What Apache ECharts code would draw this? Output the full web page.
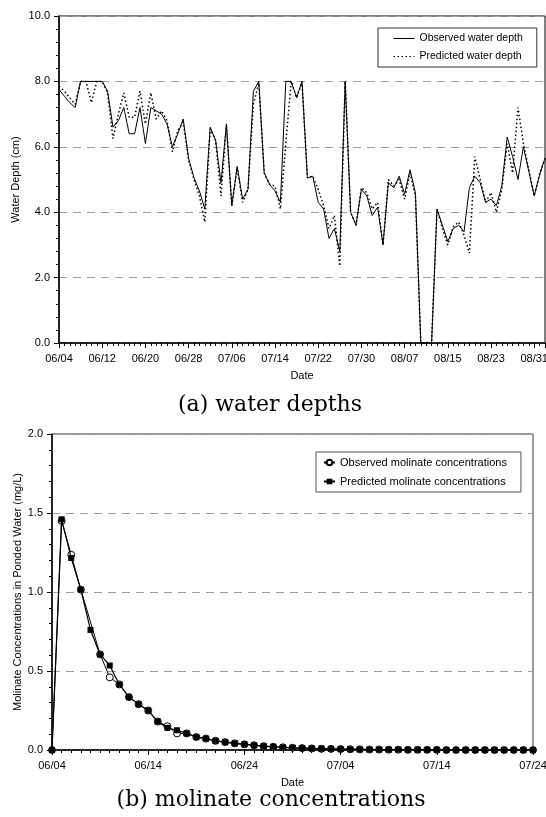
<!DOCTYPE html>
<html>
<head>
<meta charset="utf-8">
<script src="https://cdn.jsdelivr.net/npm/echarts@6/dist/echarts.min.js"></script>
<style>
  html, body { margin: 0; padding: 0; background: #fff; }
  #main { width: 546px; height: 817px; }
</style>
</head>
<body>
<div id="main"></div>
<script>
// day 0 = 06/04, one value per day
var depthObserved = [
  7.75, 7.55, 7.35, 7.2, 8.0, 8.0, 8.0, 8.0, 8.0, 7.7,
  6.6, 6.8, 7.2, 6.4, 6.4, 7.2, 6.1, 7.2, 7.1, 7.0,
  6.7, 6.0, 6.4, 6.85, 5.65, 5.05, 4.65, 4.1, 6.6, 6.2,
  4.9, 6.7, 4.2, 5.4, 4.4, 4.7, 7.7, 8.0, 5.2, 4.85,
  4.65, 4.3, 8.0, 8.0, 7.5, 8.0, 5.05, 5.1, 4.3, 4.1,
  3.2, 3.5, 2.8, 8.0, 4.0, 3.6, 4.7, 4.5, 3.9, 4.15,
  3.0, 4.9, 4.75, 5.1, 4.55, 5.3, 4.6, 0, 0, 0,
  4.1, 3.6, 3.1, 3.5, 3.6, 3.4, 4.75, 5.1, 4.9, 4.3,
  4.4, 4.2, 4.8, 6.3, 5.7, 5.0, 6.0, 5.25, 4.5, 5.15,
  5.65
];
var depthPredicted = [
  7.85, 7.7, 7.5, 7.3, 8.0, 8.0, 7.35, 8.0, 8.0, 7.65,
  6.25, 7.0, 7.65, 6.9, 6.9, 7.7, 6.7, 7.65, 6.85, 7.1,
  6.8, 5.85, 6.5, 6.75, 5.6, 5.0, 4.5, 3.7, 6.55, 6.2,
  4.5, 6.65, 4.2, 5.35, 4.3, 4.7, 7.3, 7.95, 5.2, 4.85,
  4.8, 4.1, 6.1, 8.0, 7.5, 8.0, 5.05, 5.1, 4.7, 4.2,
  3.5, 3.9, 2.35, 8.0, 4.0, 3.6, 4.75, 4.6, 4.1, 4.3,
  3.0, 5.0, 4.8, 5.0, 4.4, 5.2, 4.5, 0, 0, 0,
  4.1, 3.5, 3.0, 3.55, 3.7, 3.3, 2.75, 5.7, 5.0, 4.3,
  4.6, 4.0, 4.7, 6.1, 5.2, 7.2, 6.1, 5.3, 4.5, 5.15,
  5.65
];
// null = no measurement that day
var concObserved = [
  0, 1.45, 1.235, 1.015, null, 0.605, 0.46, 0.415, 0.335, 0.29,
  0.25, 0.18, 0.15, 0.105, 0.105, 0.082, 0.072, 0.058, 0.05, 0.042,
  0.036, 0.03, 0.024, 0.02, 0.017, 0.014, 0.012, 0.01, 0.008, 0.007,
  0.006, 0.005, 0.004, 0.003, 0.003, 0.002, 0.002, 0.001, 0.001, 0.001,
  0.001, 0, 0, 0, 0, 0, 0, 0, 0, 0,
  0
];
var concPredicted = [
  0, 1.46, 1.215, 1.015, 0.76, 0.605, 0.535, 0.415, 0.335, 0.29,
  0.25, 0.18, 0.14, 0.125, 0.105, 0.082, 0.072, 0.058, 0.05, 0.042,
  0.036, 0.03, 0.024, 0.02, 0.017, 0.014, 0.012, 0.01, 0.008, 0.007,
  0.006, 0.005, 0.004, 0.003, 0.003, 0.002, 0.002, 0.001, 0.001, 0.001,
  0.001, 0, 0, 0, 0, 0, 0, 0, 0, 0,
  0
];

function pad(n) { return n < 10 ? '0' + n : '' + n; }
function dayLabel(d) {
  var t = new Date(Date.UTC(2001, 5, 4 + Math.round(d)));
  return pad(t.getUTCMonth() + 1) + '/' + pad(t.getUTCDate());
}
function pairs(arr) {
  return arr.map(function (v, i) { return [i, v]; });
}

var sans = '"Liberation Sans", Arial, sans-serif';
var dash = { color: '#a0a0a0', type: [8, 6], width: 1 };

function xAxisOf(grid, max, interval, splits, showMax) {
  return {
    type: 'value', gridIndex: grid, min: 0, max: max, interval: interval,
    name: 'Date', nameLocation: 'middle', nameGap: 27,
    nameTextStyle: { color: '#000', fontFamily: sans, fontSize: 11 },
    axisLine: { lineStyle: { color: '#000', width: 1.5 } },
    axisTick: { show: true, length: 5, lineStyle: { color: '#000' } },
    minorTick: { show: true, splitNumber: splits, length: 3, lineStyle: { color: '#000' } },
    axisLabel: { color: '#000', fontFamily: sans, fontSize: 11, margin: 10, showMaxLabel: showMax, formatter: dayLabel },
    splitLine: { show: false }
  };
}
function yAxisOf(grid, max, interval, name, gap) {
  return {
    type: 'value', gridIndex: grid, min: 0, max: max, interval: interval,
    name: name, nameLocation: 'middle', nameGap: gap, nameMoveOverlap: false,
    nameTextStyle: { color: '#000', fontFamily: sans, fontSize: 11 },
    axisLine: { show: true, lineStyle: { color: '#000', width: 1.5 } },
    axisTick: { show: true, length: 5, lineStyle: { color: '#000' } },
    minorTick: { show: true, splitNumber: 5, length: 3, lineStyle: { color: '#000' } },
    axisLabel: { color: '#000', fontFamily: sans, fontSize: 11, margin: 9,
      formatter: function (v) { return v.toFixed(1); } },
    splitLine: { show: true, lineStyle: dash }
  };
}

var chart = echarts.init(document.getElementById('main'), null, { renderer: 'canvas' });

var option = {
  animation: false,
  backgroundColor: '#fff',
  grid: [
    { left: 59, top: 16, width: 486, height: 327, outerBoundsMode: 'none', containLabel: false,
      show: true, borderColor: '#000', borderWidth: 1 },
    { left: 52, top: 434, width: 481, height: 316, outerBoundsMode: 'none', containLabel: false,
      show: true, borderColor: '#333', borderWidth: 1 }
  ],
  xAxis: [xAxisOf(0, 90, 8, 8, false), xAxisOf(1, 50, 10, 10, true)],
  yAxis: [
    yAxisOf(0, 10, 2, 'Water Depth (cm)', 38),
    yAxisOf(1, 2, 0.5, 'Molinate Concentrations in Ponded Water (mg/L)', 29)
  ],
  legend: [{
    data: ['Observed water depth', 'Predicted water depth'],
    orient: 'vertical', left: 378, top: 28,
    padding: [5, 14, 5, 15], itemGap: 7, itemWidth: 21, itemHeight: 10,
    itemStyle: { opacity: 0, color: 'transparent', borderColor: 'transparent' },
    lineStyle: { width: 1 },
    backgroundColor: '#fff', borderColor: '#333', borderWidth: 1, borderRadius: 0,
    textStyle: { color: '#000', fontFamily: sans, fontSize: 10.5 }
  }, {
    data: ['Observed molinate concentrations', 'Predicted molinate concentrations'],
    orient: 'vertical', left: 316, top: 452,
    padding: [5, 14, 5, 7], itemGap: 8, itemWidth: 11, itemHeight: 7,
    backgroundColor: '#fff', borderColor: '#555', borderWidth: 1, borderRadius: 0,
    textStyle: { color: '#000', fontFamily: sans, fontSize: 11 }
  }],
  graphic: [{
    type: 'text', x: 270, y: 405,
    style: { text: '(a) water depths', font: '22px "DejaVu Serif", serif', fill: '#000',
      textAlign: 'center', textVerticalAlign: 'middle' }
  }, {
    type: 'text', x: 271, y: 800,
    style: { text: '(b) molinate concentrations', font: '22px "DejaVu Serif", serif', fill: '#000',
      textAlign: 'center', textVerticalAlign: 'middle' }
  }],
  series: [{
    name: 'Observed water depth', type: 'line', xAxisIndex: 0, yAxisIndex: 0,
    data: pairs(depthObserved), symbol: 'none',
    lineStyle: { color: '#000', width: 1 }, itemStyle: { color: '#000' }, z: 3
  }, {
    name: 'Predicted water depth', type: 'line', xAxisIndex: 0, yAxisIndex: 0,
    data: pairs(depthPredicted), symbol: 'none',
    lineStyle: { color: '#000', width: 1.5, type: [1.5, 2.5] }, itemStyle: { color: '#000' }, z: 2
  }, {
    name: 'Observed molinate concentrations', type: 'line', xAxisIndex: 1, yAxisIndex: 1,
    data: pairs(concObserved), symbol: 'circle', symbolSize: 7, showAllSymbol: true, connectNulls: true,
    lineStyle: { color: '#000', width: 1 },
    itemStyle: { color: '#fff', borderColor: '#000', borderWidth: 1 }, z: 2
  }, {
    name: 'Predicted molinate concentrations', type: 'line', xAxisIndex: 1, yAxisIndex: 1,
    data: pairs(concPredicted), symbol: 'rect', symbolSize: 6, showAllSymbol: true,
    lineStyle: { color: '#000', width: 1.2 },
    itemStyle: { color: '#000', borderColor: '#000', borderWidth: 0 }, z: 3
  }]
};

chart.setOption(option);
</script>
</body>
</html>
